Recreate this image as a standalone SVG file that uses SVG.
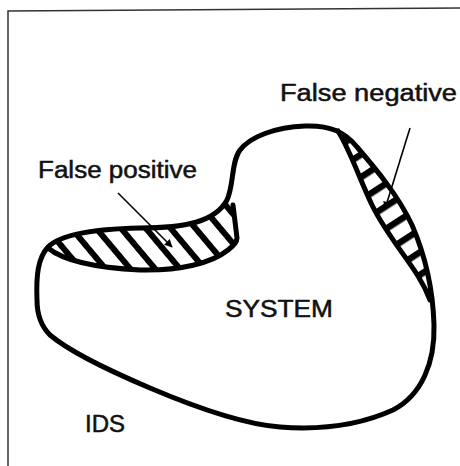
<svg xmlns="http://www.w3.org/2000/svg" width="460" height="466" viewBox="0 0 460 466">
  <style>
    .outline { fill: none; stroke: #000; stroke-width: 5; stroke-linecap: round; stroke-linejoin: round; }
    .label { font-family: "Liberation Sans", Arial, sans-serif; font-size: 23px; fill: #111; stroke: #111; stroke-width: 0.5; }
    .arrow { fill: none; stroke: #000; stroke-width: 1.6; }
    .frame { fill: none; stroke: #333; stroke-width: 1.5; }
  </style>
  <defs>
    <pattern id="hatchFP" patternUnits="userSpaceOnUse" width="19" height="19" patternTransform="rotate(-40)">
      <rect x="0" y="0" width="6" height="19" fill="#000"/>
    </pattern>
    <pattern id="hatchFN" patternUnits="userSpaceOnUse" width="19" height="19" patternTransform="rotate(57)">
      <rect x="0" y="0" width="6.5" height="19" fill="#000"/>
    </pattern>
    <marker id="headL" viewBox="0 0 10 10" refX="9" refY="5" markerWidth="10" markerHeight="8" markerUnits="userSpaceOnUse" orient="auto">
      <path d="M0,0 L10,5 L0,10 Z" fill="#000"/>
    </marker>
  </defs>

  <rect width="460" height="466" fill="#fff"/>
  <path class="frame" d="M8,466 L8,11 L460,8"/>

  <g id="false-positive">
    <path d="M48,247 C60,235 90,229 140,228 C185,228 215,222 227,200 L233,205 L237,238 C237,242 234,245 228,250 C212,263 180,271 140,270 C100,268 65,262 48,247 Z" fill="url(#hatchFP)"/>
    <path class="outline" d="M48,248 C65,262 100,268 140,270 C180,271 212,263 228,250 C234,245 237,242 237,238 L233,205"/>
  </g>

  <g id="false-negative">
    <path d="M338,131 C346,134 352,140 357,147 C375,168 398,195 412,225 C425,255 430,285 430,300 C427,292 423,284 418,276 C405,255 385,232 372,205 C360,180 350,150 338,131 Z" fill="url(#hatchFN)"/>
    <path class="outline" d="M338,131 C350,150 360,180 372,205 C385,232 405,255 418,276 C423,284 427,292 430,300"/>
  </g>

  <g id="ids-system-boundary">
    <path class="outline" d="M37,300 C36,275 38,258 48,247 C60,235 90,229 140,228 C185,228 215,222 227,200 C234,185 231,162 240,150 C250,137 275,127 305,126 C330,125 345,132 357,147 C375,168 398,195 412,225 C425,255 433,290 434,325 C435,362 422,395 393,410 C360,425 320,430 280,427 C240,424 190,405 150,388 C110,371 70,352 50,335 C40,325 37,312 37,300 Z"/>
  </g>

  <g id="connectors">
    <line class="arrow" x1="118" y1="193" x2="172" y2="247" marker-end="url(#headL)"/>
    <line class="arrow" x1="410" y1="128" x2="385" y2="209" marker-end="url(#headL)"/>
  </g>

  <g id="label-false-positive">
    <text class="label" x="38" y="178" textLength="159" lengthAdjust="spacingAndGlyphs">False positive</text>
  </g>
  <g id="label-false-negative">
    <text class="label" x="280" y="101" textLength="177" lengthAdjust="spacingAndGlyphs">False negative</text>
  </g>
  <g id="label-system">
    <text class="label" x="225" y="317" textLength="108" lengthAdjust="spacingAndGlyphs">SYSTEM</text>
  </g>
  <g id="label-ids">
    <text class="label" x="85" y="432" textLength="40" lengthAdjust="spacingAndGlyphs">IDS</text>
  </g>
</svg>
